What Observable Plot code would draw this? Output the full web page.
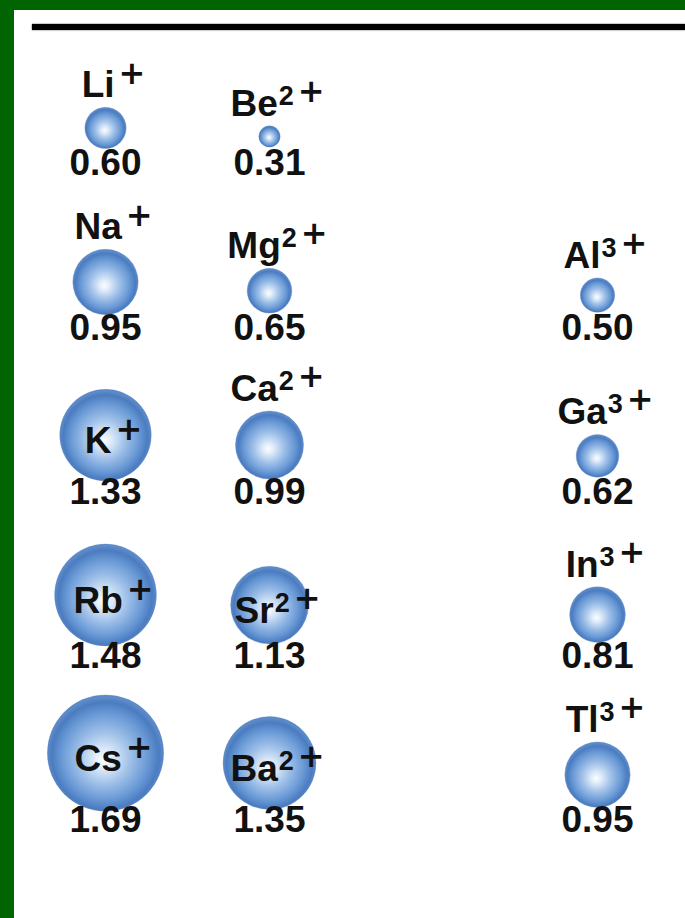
<!DOCTYPE html>
<html><head><meta charset="utf-8">
<script src="https://cdn.jsdelivr.net/npm/d3@7"></script>
<script src="https://cdn.jsdelivr.net/npm/@observablehq/plot@0.6"></script>
<style>
html,body{margin:0;padding:0;background:#006400;width:685px;height:918px;overflow:hidden}
#panel{position:absolute;left:14px;top:10px;width:671px;height:908px;background:#fff}
#rule{position:absolute;left:18px;top:14px;width:653px;height:6px;background:#000;box-shadow:0 0 1.5px #000}
#chart{position:absolute;left:0;top:0}
</style></head>
<body><div id="panel"><div id="rule"></div><div id="chart"></div></div>
<script>
// ---- data (ionic radii, Å) ----
const symbols = ["Li","Be","Na","Mg","Al","K","Ca","Ga","Rb","Sr","In","Cs","Ba","Tl"];
const charges = [1,2,1,2,3,1,2,3,1,2,3,1,2,3];
const groups  = ["1","2","1","2","13","1","2","13","1","2","13","1","2","13"];
const periods = [2,2,3,3,3,4,4,4,5,5,5,6,6,6];
const radii   = [0.60,0.31,0.95,0.65,0.50,1.33,0.99,0.62,1.48,1.13,0.81,1.69,1.35,0.95];
const groupColumns = ["1","2","3–12","13"];

// ---- layout ----
const W = 671, H = 908;
const M = {top:153, right:88, bottom:98, left:90};
const xOpt = {type:"point", domain: groupColumns, padding: 0, axis: null};
const yOpt = {type:"linear", domain:[2,6], range:[M.top, H - M.bottom], axis: null};
const rOpt = {type:"linear", domain:[0,1.7], range:[0,58.5]};
const rScale = Plot.scale({r: rOpt});
const yScale = Plot.scale({y: yOpt});

const ions = symbols.map((s,i) => {
  const r = rScale.apply(radii[i]);
  const yv = yScale.apply(periods[i]);
  const cy = yv - (0.85*r + 18);
  const ly = r >= 36 ? cy + 6 : cy - r - 22;
  return {
    symbol: s,
    chargeLabel: charges[i] === 1 ? "+" : charges[i] + "+",
    group: groups[i], period: periods[i], radius: radii[i],
    circleY: yScale.invert(cy), labelY: yScale.invert(ly)
  };
});

const font = "Liberation Sans, Arial, sans-serif";
const chart = Plot.plot({
  width: W, height: H,
  marginTop: M.top, marginRight: M.right, marginBottom: M.bottom, marginLeft: M.left,
  x: xOpt, y: yOpt, r: rOpt,
  style: {background: "transparent", overflow: "visible"},
  marks: [
    Plot.dot(ions, {x:"group", y:"circleY", r:"radius", fill:"url(#ionGrad)", stroke:"#4a79bb", strokeOpacity:0.35, strokeWidth:0.8}),
    Plot.text(ions, {x:"group", y:"period", text: d => d.radius.toFixed(2),
      fontSize: 37, fontWeight: "bold", fontFamily: font, fill:"#111"}),
    Plot.text(ions, {x:"group", y:"labelY", text: d => d.symbol + d.chargeLabel, dx: 8,
      fontSize: 37, fontWeight: "bold", fontFamily: font, fill:"#111"})
  ]
});
document.getElementById("chart").appendChild(chart);

// gradient for the spheres
const svg = d3.select(chart);
const grad = svg.insert("defs", ":first-child").append("radialGradient")
  .attr("id","ionGrad").attr("cx","50%").attr("cy","52%").attr("r","50%")
  .attr("fx","48%").attr("fy","56%");
[["0%","#fbfdff"],["14%","#e3eefa"],["45%","#9fc0e8"],["74%","#6a9ad6"],["92%","#4b7cc0"],["100%","#5d8bc9"]]
  .forEach(([o,c]) => grad.append("stop").attr("offset",o).attr("stop-color",c));

// superscript charges in the ion labels
const textGroups = svg.selectAll('g[aria-label="text"]').nodes();
d3.select(textGroups[textGroups.length-1]).selectAll("text").each(function() {
  const t = d3.select(this);
  const m = t.text().match(/^([A-Z][a-z]?)(\d?)(\+)$/);
  if (!m) return;
  t.text("");
  t.append("tspan").text(m[1]);
  if (m[2]) {
    t.append("tspan").attr("font-size", 27).attr("dy", -11).attr("dx", 1).text(m[2]);
    t.append("tspan").attr("font-family","DejaVu Sans").attr("font-size", 32).attr("dy", -3).attr("dx", 4).text(m[3]);
  } else {
    t.append("tspan").attr("font-family","DejaVu Sans").attr("font-size", 32).attr("dy", -13).attr("dx", 4).text(m[3]);
  }
});
</script>
</body></html>
